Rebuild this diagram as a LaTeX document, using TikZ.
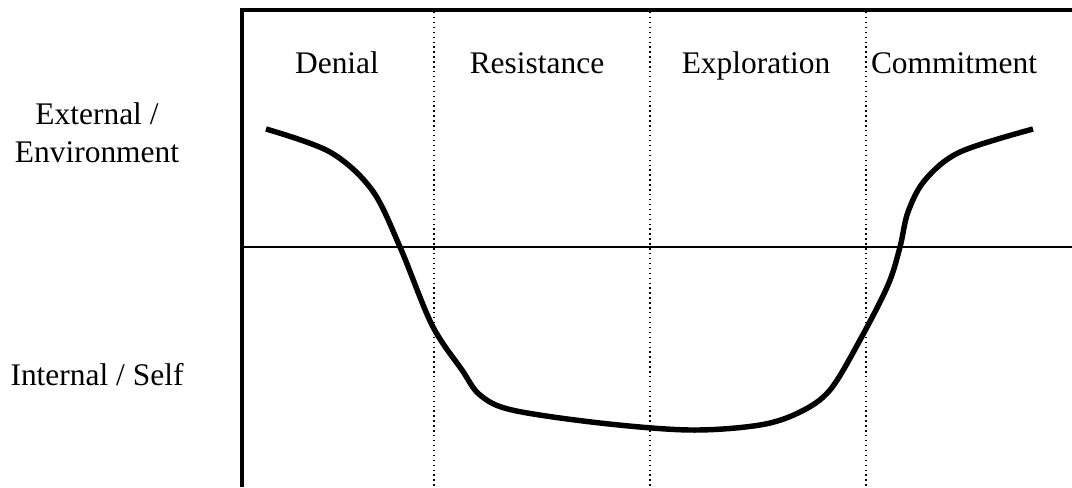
\documentclass[tikz,border=0pt]{standalone}
\usepackage{fontspec}
\setmainfont{Liberation Serif}
\usetikzlibrary{positioning}

\begin{document}
\begin{tikzpicture}[x=0.02cm,y=-0.02cm,every node/.style={font=\fontsize{17.9}{21.5}\selectfont,inner sep=0pt}]
\tikzstyle{stage}=[anchor=base]
\tikzstyle{divider}=[dotted,line width=0.8pt]
\useasboundingbox (0,0) rectangle (1072,487);
% frame and axis
\draw[line width=2pt] (242,487) -- (242,10) -- (1072,10);
\draw[line width=0.7pt] (242,247) -- (1072,247);
\foreach \x in {434,650,866}{\draw[divider] (\x,12) -- (\x,487);}
% stages
\node[stage] (denial) at (337,73) {Denial};
\node[stage] (resist) at (537,73) {Resistance};
\node[stage] (explore) at (756,73) {Exploration};
\node[stage] (commit) at (954,73) {Commitment};
% levels
\node[align=center] (ext) at (97,133) {External /\\Environment};
\node[stage] (int) at (97,385) {Internal / Self};
% change curve
\draw[line width=3.1pt] plot[smooth,tension=0.55] coordinates {
  (266,129) (330,152) (372,190) (400,247) (432,325) (462,370) (480,395)
  (512,410) (600,423) (690,430) (760,425) (800,412) (830,390) (860,340)
  (888,285) (900,247) (908,212) (925,180) (960,152) (1033,129)};
\end{tikzpicture}
\end{document}
